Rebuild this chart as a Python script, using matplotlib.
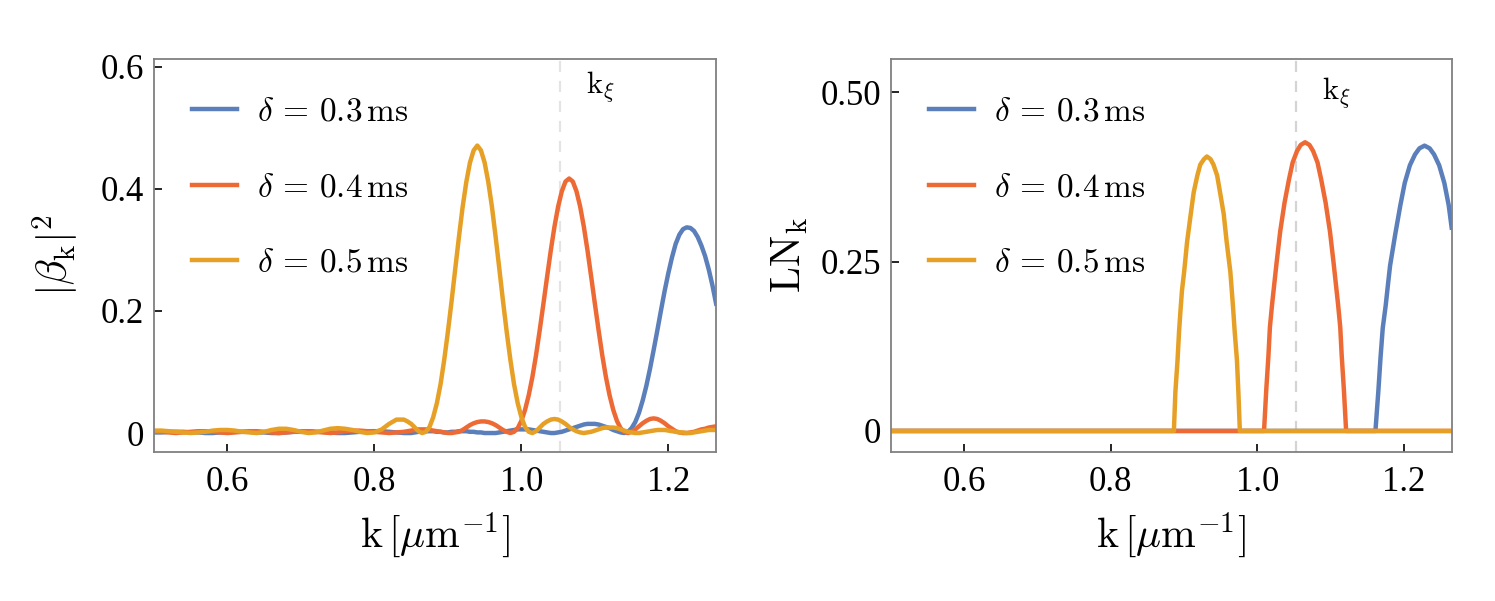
import matplotlib
matplotlib.use("Agg")
import matplotlib.pyplot as plt

plt.rcParams['font.family'] = 'serif'
plt.rcParams['font.serif'] = ['Liberation Serif', 'DejaVu Serif']
plt.rcParams['mathtext.fontset'] = 'cm'

# ---- data ----
k_xi = 1.053

# left panel: |beta_k|^2 sampled on k
k_left = [0.50, 0.51, 0.52, 0.53, 0.54, 0.55, 0.56, 0.57, 0.58, 0.59,
          0.60, 0.61, 0.62, 0.63, 0.64, 0.65, 0.66, 0.67, 0.68, 0.69,
          0.70, 0.71, 0.72, 0.73, 0.74, 0.75, 0.76, 0.77, 0.78, 0.79,
          0.80, 0.81, 0.82, 0.83, 0.84,
          0.845, 0.850, 0.855, 0.860, 0.865, 0.870, 0.875, 0.880, 0.885, 0.890,
          0.895, 0.900, 0.905, 0.910, 0.915, 0.920, 0.925, 0.930, 0.935, 0.940,
          0.945, 0.950, 0.955, 0.960, 0.965, 0.970, 0.975, 0.980, 0.985, 0.990,
          0.995, 1.000, 1.005, 1.010, 1.015, 1.020, 1.025, 1.030, 1.035, 1.040,
          1.045, 1.050, 1.055, 1.060, 1.065, 1.070, 1.075, 1.080, 1.085, 1.090,
          1.095, 1.100, 1.105, 1.110, 1.115, 1.120, 1.125, 1.130, 1.135, 1.140,
          1.145, 1.150, 1.155, 1.160, 1.165, 1.170, 1.175, 1.180, 1.185, 1.190,
          1.195, 1.200, 1.205, 1.210, 1.215, 1.220, 1.225, 1.230, 1.235, 1.240,
          1.245, 1.250, 1.255, 1.260, 1.265]

beta_03 = [0.001, 0.001, 0.002, 0.002, 0.002, 0.001, 0.001, 0.000, 0.000, 0.001,
           0.001, 0.002, 0.002, 0.002, 0.001, 0.001, 0.000, 0.000, 0.001, 0.002,
           0.002, 0.003, 0.002, 0.002, 0.001, 0.000, 0.000, 0.001, 0.002, 0.003,
           0.003, 0.003, 0.002, 0.001, 0.000,
           0.000, 0.000, 0.001, 0.002, 0.002, 0.003, 0.003, 0.003, 0.002, 0.002,
           0.001, 0.001, 0.002, 0.002, 0.003, 0.003, 0.003, 0.002, 0.002, 0.001,
           0.001, 0.000, 0.000, 0.000, 0.000, 0.001, 0.002, 0.003, 0.004, 0.005,
           0.006, 0.006, 0.006, 0.006, 0.005, 0.004, 0.003, 0.002, 0.001, 0.000,
           0.000, 0.001, 0.002, 0.004, 0.006, 0.008, 0.010, 0.012, 0.014, 0.015,
           0.015, 0.015, 0.014, 0.012, 0.010, 0.008, 0.005, 0.003, 0.001, 0.000,
           0.002, 0.008, 0.018, 0.033, 0.053, 0.077, 0.105, 0.136, 0.168, 0.201,
           0.233, 0.262, 0.288, 0.310, 0.325, 0.334, 0.337, 0.336, 0.331, 0.321,
           0.307, 0.290, 0.268, 0.242, 0.212]

beta_04 = [0.002, 0.002, 0.001, 0.000, 0.001, 0.002, 0.003, 0.003, 0.002, 0.001,
           0.000, 0.001, 0.002, 0.003, 0.003, 0.002, 0.001, 0.000, 0.001, 0.002,
           0.003, 0.003, 0.002, 0.001, 0.000, 0.001, 0.003, 0.004, 0.004, 0.003,
           0.002, 0.001, 0.000, 0.001, 0.002,
           0.003, 0.004, 0.005, 0.006, 0.006, 0.006, 0.005, 0.004, 0.003, 0.002,
           0.001, 0.000, 0.000, 0.001, 0.002, 0.005, 0.009, 0.013, 0.016, 0.018,
           0.019, 0.019, 0.018, 0.016, 0.013, 0.009, 0.005, 0.002, 0.000, 0.002,
           0.008, 0.020, 0.038, 0.062, 0.092, 0.128, 0.169, 0.212, 0.256, 0.299,
           0.338, 0.371, 0.396, 0.412, 0.417, 0.412, 0.396, 0.371, 0.338, 0.299,
           0.256, 0.212, 0.169, 0.128, 0.092, 0.062, 0.038, 0.020, 0.008, 0.002,
           0.000, 0.002, 0.006, 0.011, 0.016, 0.020, 0.023, 0.024, 0.023, 0.020,
           0.016, 0.011, 0.007, 0.003, 0.001, 0.000, 0.000, 0.001, 0.002, 0.004,
           0.006, 0.007, 0.009, 0.010, 0.011]

beta_05 = [0.004, 0.004, 0.003, 0.002, 0.001, 0.000, 0.001, 0.002, 0.004, 0.005,
           0.005, 0.004, 0.002, 0.001, 0.000, 0.002, 0.005, 0.007, 0.007, 0.005,
           0.002, 0.000, 0.001, 0.004, 0.007, 0.008, 0.007, 0.005, 0.002, 0.000,
           0.001, 0.006, 0.015, 0.022, 0.022,
           0.019, 0.015, 0.009, 0.003, 0.000, 0.002, 0.010, 0.026, 0.049, 0.080,
           0.120, 0.166, 0.216, 0.269, 0.321, 0.370, 0.411, 0.443, 0.463, 0.471,
           0.463, 0.443, 0.411, 0.370, 0.321, 0.269, 0.216, 0.166, 0.120, 0.080,
           0.049, 0.026, 0.010, 0.002, 0.000, 0.003, 0.009, 0.015, 0.019, 0.022,
           0.023, 0.022, 0.019, 0.015, 0.010, 0.006, 0.003, 0.001, 0.000, 0.001,
           0.002, 0.004, 0.006, 0.008, 0.009, 0.009, 0.009, 0.008, 0.006, 0.004,
           0.002, 0.001, 0.000, 0.000, 0.001, 0.002, 0.003, 0.004, 0.005, 0.005,
           0.005, 0.004, 0.003, 0.002, 0.001, 0.001, 0.000, 0.000, 0.001, 0.002,
           0.003, 0.004, 0.005, 0.005, 0.005]

# right panel: LN_k, zero outside each arch
ln_k_03 = [0.50, 1.161, 1.165, 1.168, 1.171, 1.175, 1.178, 1.181, 1.188, 1.195,
           1.201, 1.208, 1.215, 1.221, 1.228, 1.235, 1.241, 1.248, 1.255, 1.261, 1.265]
ln_03 = [0.0, 0.0, 0.059, 0.109, 0.152, 0.185, 0.215, 0.244, 0.290, 0.333,
         0.366, 0.392, 0.408, 0.417, 0.421, 0.417, 0.408, 0.392, 0.366, 0.333, 0.300]

ln_k_04 = [0.50, 1.009, 1.012, 1.015, 1.017, 1.020, 1.023, 1.026, 1.031, 1.037,
           1.043, 1.048, 1.054, 1.059, 1.065, 1.071, 1.076, 1.082, 1.087, 1.093,
           1.099, 1.104, 1.107, 1.110, 1.113, 1.115, 1.118, 1.121, 1.265]
ln_04 = [0.0, 0.0, 0.060, 0.111, 0.153, 0.187, 0.217, 0.247, 0.294, 0.337,
         0.371, 0.396, 0.413, 0.422, 0.426, 0.422, 0.413, 0.396, 0.371, 0.337,
         0.294, 0.247, 0.217, 0.187, 0.153, 0.111, 0.060, 0.0, 0.0]

ln_k_05 = [0.50, 0.886, 0.888, 0.891, 0.893, 0.895, 0.897, 0.900, 0.904, 0.909,
           0.913, 0.918, 0.922, 0.927, 0.931, 0.936, 0.940, 0.945, 0.949, 0.954,
           0.958, 0.963, 0.965, 0.967, 0.969, 0.972, 0.974, 0.976, 1.265]
ln_05 = [0.0, 0.0, 0.057, 0.105, 0.146, 0.178, 0.207, 0.235, 0.279, 0.320,
         0.352, 0.377, 0.393, 0.401, 0.405, 0.401, 0.393, 0.377, 0.352, 0.320,
         0.279, 0.235, 0.207, 0.178, 0.146, 0.105, 0.057, 0.0, 0.0]

labels = [r'$\delta\,=\,0.3\,\mathrm{ms}$', r'$\delta\,=\,0.4\,\mathrm{ms}$', r'$\delta\,=\,0.5\,\mathrm{ms}$']
colors = ['#5B7FBA', '#EE6A35', '#E6A025']

left_yticks = [0, 0.2, 0.4, 0.6]
left_yticklabels = ['0', '0.2', '0.4', '0.6']
right_yticks = [0, 0.25, 0.50]
right_yticklabels = ['0', '0.25', '0.50']
xticks = [0.6, 0.8, 1.0, 1.2]
xticklabels = ['0.6', '0.8', '1.0', '1.2']

fig = plt.figure(figsize=(14.95, 6.01), dpi=100)
ax1 = fig.add_axes([0.103, 0.248, 0.376, 0.654])
ax2 = fig.add_axes([0.596, 0.248, 0.375, 0.654])

lw = 3.2
ax1.plot(k_left, beta_03, color=colors[0], lw=lw, label=labels[0])
ax1.plot(k_left, beta_04, color=colors[1], lw=lw, label=labels[1])
ax1.plot(k_left, beta_05, color=colors[2], lw=lw, label=labels[2])

ax2.plot(ln_k_03, ln_03, color=colors[0], lw=lw, label=labels[0])
ax2.plot(ln_k_04, ln_04, color=colors[1], lw=lw, label=labels[1])
ax2.plot(ln_k_05, ln_05, color=colors[2], lw=lw, label=labels[2])

ax1.axvline(k_xi, color='#e4e4e4', lw=1.6, ls=(0, (5, 4)), zorder=0)
ax2.axvline(k_xi, color='#d4d4d4', lw=1.6, ls=(0, (5, 4)), zorder=0)
ax1.text(1.088, 0.568, r'$\mathrm{k}_\xi$', fontsize=22, va='center', ha='left')
ax2.text(1.088, 0.499, r'$\mathrm{k}_\xi$', fontsize=22, va='center', ha='left')

ax1.set_xlim(0.5, 1.265)
ax1.set_ylim(-0.031, 0.613)
ax2.set_xlim(0.5, 1.265)
ax2.set_ylim(-0.031, 0.549)

ax1.set_yticks(left_yticks)
ax1.set_yticklabels(left_yticklabels)
ax2.set_yticks(right_yticks)
ax2.set_yticklabels(right_yticklabels)
for ax in (ax1, ax2):
    ax.set_xticks(xticks)
    ax.set_xticklabels(xticklabels)
    ax.tick_params(direction='in', length=6, width=1.2, labelsize=25)
    ax.tick_params(axis='x', pad=10)
    ax.tick_params(axis='y', pad=7)
    for s in ax.spines.values():
        s.set_color('#808080')
        s.set_linewidth(1.3)
    ax.set_xlabel(r'$\mathrm{k}\,[\mu\mathrm{m}^{-1}]$', fontsize=30, labelpad=8)
    ax.legend(loc='upper left', frameon=False, fontsize=24, handlelength=1.35,
              handletextpad=0.6, labelspacing=1.35, borderaxespad=0.75)

ax1.set_ylabel(r'$|\beta_{\mathrm{k}}|^2$', fontsize=30, labelpad=14)
ax2.set_ylabel(r'$\mathrm{LN}_{\mathrm{k}}$', fontsize=30, labelpad=8)

fig.savefig('out.png', dpi=100)
